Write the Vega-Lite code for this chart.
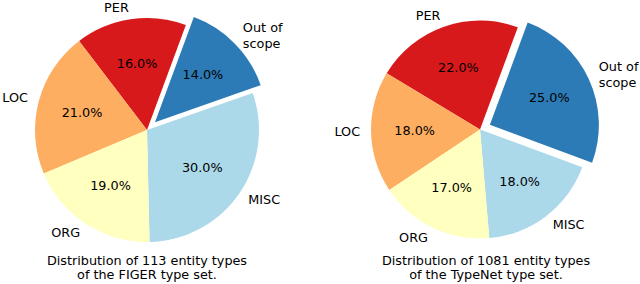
{
  "$schema": "https://vega.github.io/schema/vega-lite/v6.json",
  "padding": 0,
  "autosize": {"type": "pad"},
  "spacing": 39,
  "config": {
    "view": {"stroke": null},
    "font": "DejaVu Sans",
    "text": {"font": "DejaVu Sans", "fontSize": 12.8, "color": "#000000"},
    "title": {"font": "DejaVu Sans", "fontSize": 12.8, "fontWeight": "normal", "color": "#000000", "lineHeight": 14, "orient": "bottom", "frame": "group", "anchor": "middle", "baseline": "top"}
  },
  "datasets": {
    "figer": [
      {"k": 1, "cat": "MISC", "lab": "MISC", "v": 0.30},
      {"k": 2, "cat": "Out of scope", "lab": "Out of\nscope", "v": 0.14},
      {"k": 3, "cat": "PER", "lab": "PER", "v": 0.16},
      {"k": 4, "cat": "LOC", "lab": "LOC", "v": 0.21},
      {"k": 5, "cat": "ORG", "lab": "ORG", "v": 0.19}
    ],
    "typenet": [
      {"k": 1, "cat": "MISC", "lab": "MISC", "v": 0.18},
      {"k": 2, "cat": "Out of scope", "lab": "Out of\nscope", "v": 0.25},
      {"k": 3, "cat": "PER", "lab": "PER", "v": 0.22},
      {"k": 4, "cat": "LOC", "lab": "LOC", "v": 0.18},
      {"k": 5, "cat": "ORG", "lab": "ORG", "v": 0.17}
    ]
  },
  "hconcat": [
    {
      "width": 294,
      "height": 260,
      "data": {"name": "figer"},
      "title": {"text": ["Distribution of 113 entity types", "of the FIGER type set."], "offset": -5.5},
      "encoding": {
        "theta": {"field": "v", "type": "quantitative", "stack": true, "scale": {"range": [3.1189, -3.1643], "domain": [0, 1], "nice": false}},
        "order": {"field": "k", "type": "quantitative"},
        "color": {"field": "cat", "type": "nominal", "legend": null, "scale": {"domain": ["Out of scope", "PER", "LOC", "ORG", "MISC"], "range": ["#2c7bb6", "#d7191c", "#fdae61", "#ffffbf", "#abd9e9"]}}
      },
      "layer": [
        {"mark": {"type": "arc", "outerRadius": 112, "xOffset": {"expr": "datum.cat === 'Out of scope' ? 7.99 : 0"}, "yOffset": {"expr": "datum.cat === 'Out of scope' ? -7.85 : 0"}}},
        {"mark": {"type": "text", "radius": 67.2, "xOffset": {"expr": "datum.cat === 'Out of scope' ? 7.99 : 0"}, "yOffset": {"expr": "datum.cat === 'Out of scope' ? -7.85 : 0"}}, "encoding": {"text": {"field": "v", "format": ".1%"}, "color": {"value": "#000000"}}},
        {"mark": {"type": "text", "radius": 123.2, "lineBreak": "\n", "lineHeight": 15.5, "align": {"expr": "datum.cat === 'Out of scope' || datum.cat === 'MISC' ? 'left' : 'right'"}, "xOffset": {"expr": "datum.cat === 'Out of scope' ? 7.99 : 0"}, "yOffset": {"expr": "datum.cat === 'Out of scope' ? -15.6 : 0"}}, "encoding": {"text": {"field": "lab"}, "color": {"value": "#000000"}}}
      ]
    },
    {
      "width": 294,
      "height": 259,
      "data": {"name": "typenet"},
      "title": {"text": ["Distribution of 1081 entity types", "of the TypeNet type set."], "offset": -4.5, "dx": 6},
      "encoding": {
        "theta": {"field": "v", "type": "quantitative", "stack": true, "scale": {"range": [3.0561, -3.2271], "domain": [0, 1], "nice": false}},
        "order": {"field": "k", "type": "quantitative"},
        "color": {"field": "cat", "type": "nominal", "legend": null, "scale": {"domain": ["Out of scope", "PER", "LOC", "ORG", "MISC"], "range": ["#2c7bb6", "#d7191c", "#fdae61", "#ffffbf", "#abd9e9"]}}
      },
      "layer": [
        {"mark": {"type": "arc", "outerRadius": 109, "xOffset": {"expr": "datum.cat === 'Out of scope' ? 9.86 : 0"}, "yOffset": {"expr": "datum.cat === 'Out of scope' ? -4.66 : 0"}}},
        {"mark": {"type": "text", "radius": 65.4, "xOffset": {"expr": "datum.cat === 'Out of scope' ? 9.86 : 0"}, "yOffset": {"expr": "datum.cat === 'Out of scope' ? -4.66 : 0"}}, "encoding": {"text": {"field": "v", "format": ".1%"}, "color": {"value": "#000000"}}},
        {"mark": {"type": "text", "radius": 119.9, "lineBreak": "\n", "lineHeight": 15.5, "align": {"expr": "datum.cat === 'Out of scope' || datum.cat === 'MISC' ? 'left' : 'right'"}, "xOffset": {"expr": "datum.cat === 'Out of scope' ? 9.86 : 0"}, "yOffset": {"expr": "datum.cat === 'Out of scope' ? -12.4 : 0"}}, "encoding": {"text": {"field": "lab"}, "color": {"value": "#000000"}}}
      ]
    }
  ]
}
